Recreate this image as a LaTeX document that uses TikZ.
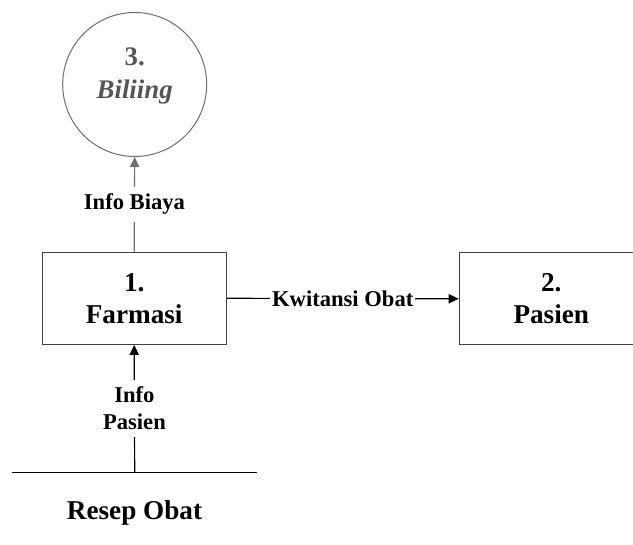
\documentclass[tikz,border=0pt]{standalone}
\usepackage{fontspec}
\setmainfont{Liberation Serif}
\usetikzlibrary{arrows.meta}
\definecolor{circgray}{RGB}{110,110,110}
\definecolor{txtgray}{RGB}{85,85,85}
\tikzset{
  procbox/.style={draw=black!75, line width=0.6pt, fill=white, minimum width=92pt, minimum height=46pt,
    align=center, font=\fontsize{13.6}{16}\selectfont\bfseries},
  proccirc/.style={circle, draw=circgray, line width=0.5pt, minimum size=72pt, inner sep=0pt},
  circtext/.style={align=center, text=txtgray, inner sep=0pt, font=\fontsize{13.4}{16.5}\selectfont\bfseries},
  flowlbl/.style={fill=white, inner xsep=1pt, inner ysep=3.5pt, align=center,
    font=\fontsize{11.3}{13.5}\selectfont\bfseries},
  flow/.style={line width=0.6pt, -{Triangle[length=5pt,width=4.6pt]}},
  storeline/.style={line width=0.6pt},
}
\begin{document}
\begin{tikzpicture}[x=0.5pt,y=-0.5pt]
\useasboundingbox (0,0) rectangle (633,545);
\fill[white] (0,0) rectangle (633,545);
\begin{scope}
\clip (0,0) rectangle (633,545);
\node[proccirc] (bil) at (134.7,84.5) {};
\node[circtext] (biltxt) at (134.7,76) {3.\\\textit{Biliing}};
\node[procbox] (far) at (134.2,298.3) {1.\\Farmasi};
\node[procbox] (pas) at (551.3,298.8) {2.\\Pasien};
\coordinate (stL) at (11.7,472.3);
\coordinate (stR) at (257,472.3);
\coordinate (stM) at (134.7,472.3);
\draw[storeline] (stL) -- (stR);
\node[font=\fontsize{13.6}{16}\selectfont\bfseries] (resep) at (134.5,513) {Resep Obat};
\draw[flow, draw=circgray, fill=circgray] (far.north) -- node[flowlbl]{Info Biaya} (bil.south);
\draw[flow] (far.east) -- node[flowlbl]{Kwitansi Obat} (pas.west);
\draw[flow] (stM) -- node[flowlbl]{Info\\Pasien} (far.south);
\end{scope}
\end{tikzpicture}
\end{document}
